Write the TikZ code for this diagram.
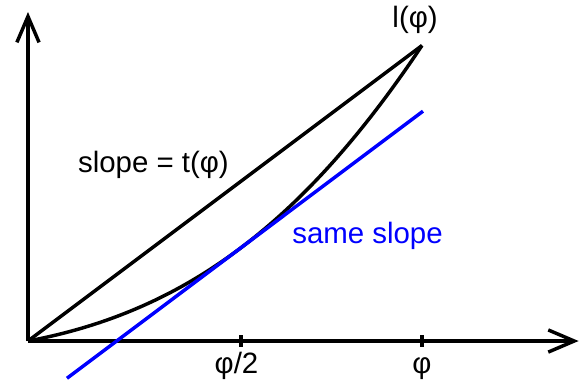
\documentclass[tikz,border=0pt]{standalone}
\usepackage{fontspec}
\setmainfont{Liberation Sans}
\usetikzlibrary{arrows.meta}
\definecolor{slopeblue}{HTML}{0000FF}
\tikzset{
  ax/.style={-{Straight Barb[length=7.5pt,width=6.4pt]}, line width=1pt},
  crv/.style={line width=1pt, color=black},
  tanline/.style={line width=1pt, color=slopeblue},
  tck/.style={line width=1pt},
  lbl/.style={font=\fontsize{8.5}{10}\selectfont, inner sep=0pt, anchor=base},
}
\begin{document}
\begin{tikzpicture}
  \useasboundingbox (-0.284,-0.406) rectangle (5.614,3.462);
  % axes
  \coordinate (O) at (0,0);
  \coordinate (xend) at (5.59,0);
  \coordinate (yend) at (0,3.34);
  \draw[ax] (O) -- (xend);
  \draw[ax] (O) -- (yend);
  % ticks
  \coordinate (half) at (2.162,0);
  \coordinate (full) at (4.0,0);
  \foreach \p in {half,full} \draw[tck] ([yshift=-0.06cm]\p) -- ([yshift=0.06cm]\p);
  \node[lbl] (halflbl) at (2.117,-0.325) {φ/2};
  \node[lbl] (fulllbl) at (4.0,-0.325) {φ};
  % curve and chord
  \coordinate (L) at (4,3);
  \draw[crv] (O) .. controls (1.6,0.3) and (2.8,1.2) .. (L);
  \draw[crv] (O) -- (L);
  % tangent with the same slope
  \coordinate (t1) at (0.396,-0.378);
  \coordinate (t2) at (4.01,2.333);
  \draw[tanline] (t1) -- (t2);
  % labels
  \node[lbl] (ltop) at (3.93,3.18) {l(φ)};
  \node[lbl] (chordlbl) at (1.274,1.706) {slope = t(φ)};
  \node[lbl, color=slopeblue] (samelbl) at (3.447,0.995) {same slope};
\end{tikzpicture}
\end{document}
